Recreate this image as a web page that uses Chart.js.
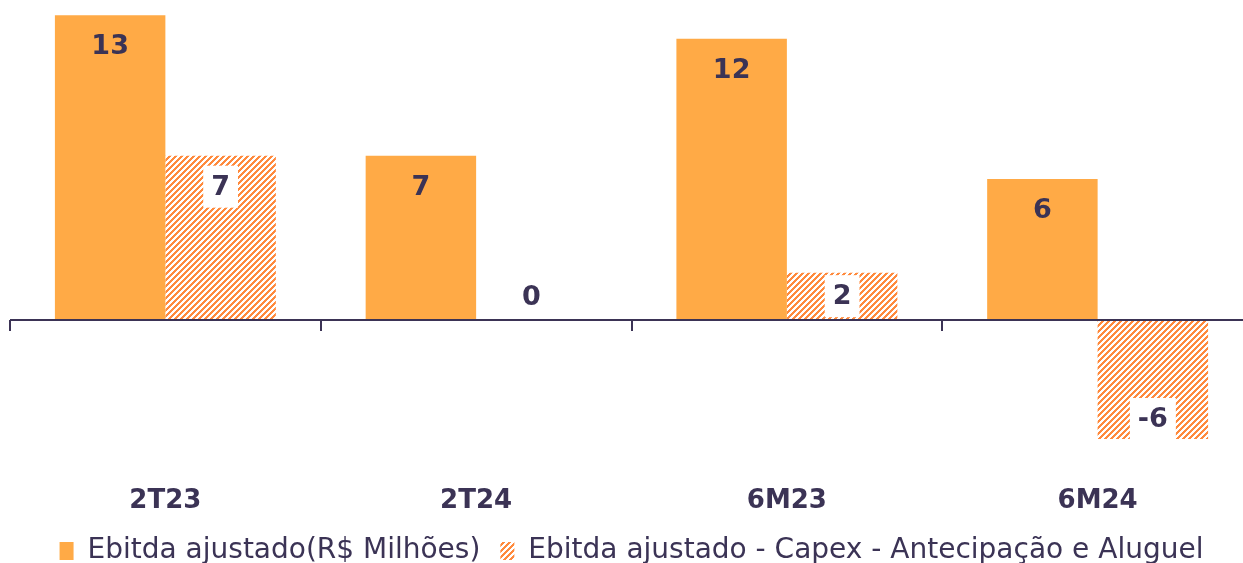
<!DOCTYPE html>
<html>
  <head>
    <script src="https://cdn.jsdelivr.net/npm/chart.js@4.4.1/dist/chart.umd.min.js"></script>
    <style>
      body { margin: 0; overflow: hidden; background: #fff; }
      #wrap { width: 1253px; height: 563px; }
    </style>
  </head>

  <body>
    <div id="wrap">
      <canvas id="canvas"></canvas>
    </div>
    <script>
      const categories = ['2T23', '2T24', '6M23', '6M24'];
      const ebitda = [13, 7, 12, 6];
      const ebitdaCapex = [7, 0, 2, -5.1];
      const ebitdaLabels = ['13', '7', '12', '6'];
      const ebitdaCapexLabels = ['7', '0', '2', '-6'];

      const ink = '#3b3355';
      const font = 'DejaVu Sans';

      // pixel stripes "/" like the office hatch fill
      function hatch(color) {
        const n = 6;
        const c = document.createElement('canvas');
        c.width = n;
        c.height = n;
        const g = c.getContext('2d');
        g.fillStyle = '#fff';
        g.fillRect(0, 0, n, n);
        g.fillStyle = color;
        for (let px = 0; px < n; px++) {
          for (let py = 0; py < n; py++) {
            if ((px + py) % n < 3) g.fillRect(px, py, 1, 1);
          }
        }
        return g.createPattern(c, 'repeat');
      }

      const valueLabels = {
        id: 'valueLabels',
        afterDatasetsDraw(chart) {
          const ctx = chart.ctx;
          const y = chart.scales.y;
          const x = chart.scales.x;
          const y0 = Math.round(y.getPixelForValue(0));

          // zero line with category ticks
          ctx.save();
          ctx.strokeStyle = ink;
          ctx.lineWidth = 2;
          ctx.beginPath();
          ctx.moveTo(chart.chartArea.left, y0);
          ctx.lineTo(chart.chartArea.right, y0);
          const step = x.getPixelForValue(1) - x.getPixelForValue(0);
          for (let i = 0; i <= categories.length; i++) {
            const px = Math.round(x.getPixelForValue(i) - step / 2);
            ctx.moveTo(px, y0);
            ctx.lineTo(px, y0 + 11);
          }
          ctx.stroke();

          ctx.font = 'bold 27px "' + font + '"';
          ctx.textAlign = 'center';
          ctx.textBaseline = 'middle';
          chart.data.datasets.forEach((ds, di) => {
            const meta = chart.getDatasetMeta(di);
            meta.data.forEach((bar, i) => {
              const v = ds.data[i];
              const text = ds.valueLabels[i];
              let cy;
              if (v > 0) {
                const h = bar.base - bar.y;
                cy = h >= 62 ? bar.y + 31 : (bar.y + bar.base) / 2;
              } else if (v === 0) {
                cy = bar.base - 23;
              } else {
                cy = bar.y - 20;
              }
              if (ds.boxed) {
                const w = ctx.measureText(text).width + 16;
                ctx.fillStyle = '#fff';
                ctx.fillRect(bar.x - w / 2, cy - 21, w, 42);
              }
              ctx.fillStyle = ink;
              ctx.fillText(text, bar.x, cy + 1);
            });
          });
          ctx.restore();
        },
      };

      const chart = new Chart(document.getElementById('canvas').getContext('2d'), {
        type: 'bar',
        data: {
          labels: categories,
          datasets: [
            {
              label: 'Ebitda ajustado(R$ Milhões)',
              data: ebitda,
              valueLabels: ebitdaLabels,
              backgroundColor: '#ffaa46',
              categoryPercentage: 0.711,
              barPercentage: 1,
            },
            {
              label: 'Ebitda ajustado - Capex - Antecipação e Aluguel',
              data: ebitdaCapex,
              valueLabels: ebitdaCapexLabels,
              boxed: true,
              backgroundColor: hatch('#ff8a3d'),
              categoryPercentage: 0.711,
              barPercentage: 1,
            },
          ],
        },
        options: {
          responsive: true,
          maintainAspectRatio: false,
          animation: false,
          layout: {
            padding: { left: 10, right: 0, top: 0, bottom: -12 },
          },
          plugins: {
            legend: {
              position: 'bottom',
              labels: {
                color: ink,
                font: { family: font, size: 28 },
                boxWidth: 14,
                boxHeight: 18,
                padding: 20,
              },
            },
            tooltip: { enabled: false },
          },
          scales: {
            y: {
              display: false,
              min: -7.1,
              max: 13.65,
            },
            x: {
              grid: { display: false, drawTicks: false, tickLength: 0 },
              border: { display: false },
              ticks: {
                color: ink,
                font: { family: font, size: 26, weight: 'bold' },
                padding: 0,
              },
            },
          },
        },
        plugins: [valueLabels],
      });
    </script>
  </body>
</html>
